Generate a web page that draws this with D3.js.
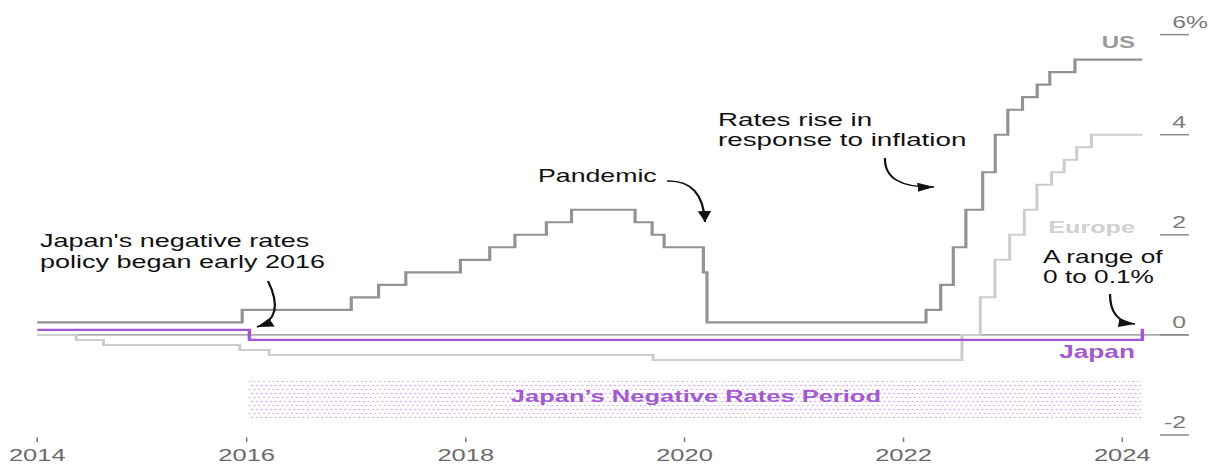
<!DOCTYPE html>
<html>
<head>
<meta charset="utf-8">
<script src="https://cdnjs.cloudflare.com/ajax/libs/d3/7.8.5/d3.min.js"></script>
<style>
    body { margin: 0; background: #fff; }
    text { font-family: "Liberation Sans", Arial, Helvetica, sans-serif; }
</style>
</head>
<body>
<svg id="chart"></svg>
<script>
    // policy rates, step changes (date, rate %)
    const usDates = ["2014-02-01", "2015-12-17", "2016-12-15", "2017-03-16", "2017-06-15", "2017-12-14",
        "2018-03-22", "2018-06-14", "2018-09-27", "2018-12-20", "2019-07-20", "2019-09-15", "2019-10-25",
        "2020-03-04", "2020-03-16", "2022-03-17", "2022-05-05", "2022-06-16", "2022-07-28", "2022-09-22",
        "2022-11-03", "2022-12-15", "2023-02-02", "2023-03-23", "2023-05-04", "2023-07-27", "2024-03-08"];
    const usRates = [0.25, 0.5, 0.75, 1.0, 1.25, 1.5, 1.75, 2.0, 2.25, 2.5, 2.25, 2.0, 1.75,
        1.25, 0.25, 0.5, 1.0, 1.75, 2.5, 3.25, 4.0, 4.5, 4.75, 5.0, 5.25, 5.5, 5.5];

    const euDates = ["2014-02-01", "2014-06-11", "2014-09-10", "2015-12-09", "2016-03-16", "2019-09-18",
        "2022-07-15", "2022-09-14", "2022-11-02", "2022-12-21", "2023-02-08", "2023-03-22", "2023-05-10",
        "2023-06-21", "2023-08-02", "2023-09-20", "2024-03-08"];
    const euRates = [0, -0.1, -0.2, -0.3, -0.4, -0.5, 0, 0.75, 1.5, 2.0, 2.5, 3.0, 3.25, 3.5, 3.75, 4.0, 4.0];

    const jpDates = ["2014-02-01", "2016-01-10", "2024-03-08", "2024-03-14"];
    const jpRates = [0.1, -0.1, 0.1, 0.1];

    const yearTicks = ["2014-02-01", "2016-01-01", "2018-01-01", "2020-01-01", "2022-01-01", "2024-01-01"];
    const yearLabels = ["2014", "2016", "2018", "2020", "2022", "2024"];
    const rateTicks = [6, 4, 2, 0, -2];
    const rateLabels = ["6", "4", "2", "0", "-2"];

    const width = 1211, height = 469;
    const sx = 1.5; // picture is stretched horizontally
    const parse = d3.timeParse("%Y-%m-%d");

    const svg = d3.select("#chart").attr("width", width).attr("height", height);

    const defs = svg.append("defs");
    const pat = defs.append("pattern").attr("id", "dots")
        .attr("patternUnits", "userSpaceOnUse").attr("width", 3.1).attr("height", 8);
    pat.append("circle").attr("cx", 0.8).attr("cy", 1.5).attr("r", 0.7).attr("fill", "#c89ce4");
    pat.append("circle").attr("cx", 2.35).attr("cy", 5.5).attr("r", 0.7).attr("fill", "#d6aee8");

    defs.append("marker").attr("id", "head")
        .attr("viewBox", "0 -5 12 10").attr("refX", 11).attr("refY", 0)
        .attr("markerWidth", 12).attr("markerHeight", 10)
        .attr("markerUnits", "userSpaceOnUse").attr("orient", "auto")
        .append("path").attr("d", "M0,-4.5L11,0L0,4.5Z").attr("fill", "#111");

    // x in unscaled units, then whole plot stretched by sx
    const x = d3.scaleTime()
        .domain([parse("2016-01-01"), parse("2024-01-01")])
        .range([246.7 / sx, 1122.3 / sx]);
    const y = d3.scaleLinear().domain([-2, 6]).range([435, 34.6]);

    const plot = svg.append("g").attr("transform", `scale(${sx},1)`);

    const line = d3.line()
        .x(d => x(d[0])).y(d => y(d[1]))
        .curve(d3.curveStepAfter);

    const zip = (ds, vs) => ds.map((d, i) => [parse(d), vs[i]]);
    const us = zip(usDates, usRates);
    const eu = zip(euDates, euRates);
    const jp = zip(jpDates, jpRates);

    // negative rates period band
    const bandStart = jp[1][0], bandEnd = jp[2][0];
    plot.append("rect")
        .attr("x", x(bandStart)).attr("width", x(bandEnd) - x(bandStart))
        .attr("y", y(-0.86)).attr("height", y(-1.66) - y(-0.86))
        .attr("fill", "url(#dots)");

    // right axis ticks
    plot.selectAll(".ytick").data(rateTicks).enter().append("line")
        .attr("x1", 1160 / sx).attr("x2", 1189 / sx)
        .attr("y1", d => y(d)).attr("y2", d => y(d))
        .attr("stroke", "#8a8a8a").attr("stroke-width", 1.5);

    // zero line
    plot.append("line")
        .attr("x1", x(us[0][0])).attr("x2", 1189 / sx)
        .attr("y1", y(0)).attr("y2", y(0))
        .attr("stroke", "#8a8a8a").attr("stroke-width", 1.3);

    // bottom axis ticks
    plot.selectAll(".xtick").data(yearTicks).enter().append("line")
        .attr("x1", d => x(parse(d))).attr("x2", d => x(parse(d)))
        .attr("y1", 437.5).attr("y2", 442)
        .attr("stroke", "#777").attr("stroke-width", 1);

    plot.append("path").datum(eu).attr("d", line)
        .attr("fill", "none").attr("stroke", "#cdcdcd").attr("stroke-width", 2);
    plot.append("path").datum(us).attr("d", line)
        .attr("fill", "none").attr("stroke", "#929292").attr("stroke-width", 2.1);
    plot.append("path").datum(jp).attr("d", line)
        .attr("fill", "none").attr("stroke", "#a556d6").attr("stroke-width", 2.3);

    // arrows (pixel coords, converted into stretched space)
    function arrow(p0, c, p1) {
        const p = d3.path();
        p.moveTo(p0[0] / sx, p0[1]);
        p.quadraticCurveTo(c[0] / sx, c[1], p1[0] / sx, p1[1]);
        plot.append("path").attr("d", p.toString())
            .attr("fill", "none").attr("stroke", "#111").attr("stroke-width", 1.5)
            .attr("marker-end", "url(#head)");
    }
    arrow([268, 281], [286, 318], [257, 327]);
    arrow([667, 181], [703, 180], [705, 222]);
    arrow([885, 158], [884, 188], [934, 187]);
    arrow([1110, 294], [1110, 322], [1135, 324]);

    // text, stretched like the rest
    function label(px, py, str, opts) {
        const o = Object.assign({ size: 17.5, weight: "normal", fill: "#111", anchor: "start" }, opts);
        return svg.append("text")
            .attr("transform", `translate(${px},${py}) scale(${sx},1)`)
            .attr("text-anchor", o.anchor)
            .attr("font-size", o.size).attr("font-weight", o.weight)
            .attr("fill", o.fill).text(str);
    }

    yearTicks.forEach((d, i) => {
        label(x(parse(d)) * sx, 461, yearLabels[i], { anchor: "middle", fill: "#6a6a6a", size: 17 });
    });
    rateTicks.forEach((d, i) => {
        label(1186, y(d) - 7, rateLabels[i], { anchor: "end", fill: "#7a7a7a", size: 16.5 });
    });
    label(1186, y(6) - 7, "%", { fill: "#7a7a7a", size: 16.5 });

    label(1135, 48, "US", { anchor: "end", weight: "bold", fill: "#9a9a9a", size: 16 });
    label(1135, 233, "Europe", { anchor: "end", weight: "bold", fill: "#d0d0d0", size: 16.8 });
    label(1135, 358, "Japan", { anchor: "end", weight: "bold", fill: "#a459cf", size: 17.5 });

    label(x(bandStart) * sx / 2 + x(bandEnd) * sx / 2, 402, "Japan\u2019s Negative Rates Period",
        { anchor: "middle", weight: "bold", fill: "#a459cf", size: 17 });

    label(40, 247, "Japan's negative rates", { size: 18 });
    label(40, 268, "policy began early 2016", { size: 18 });
    label(538, 182, "Pandemic", { size: 17.8 });
    label(718, 126, "Rates rise in", { size: 18.5 });
    label(718, 146, "response to inflation", { size: 18.5 });
    label(1043, 263, "A range of");
    label(1043, 283, "0 to 0.1%");
</script>
</body>
</html>
